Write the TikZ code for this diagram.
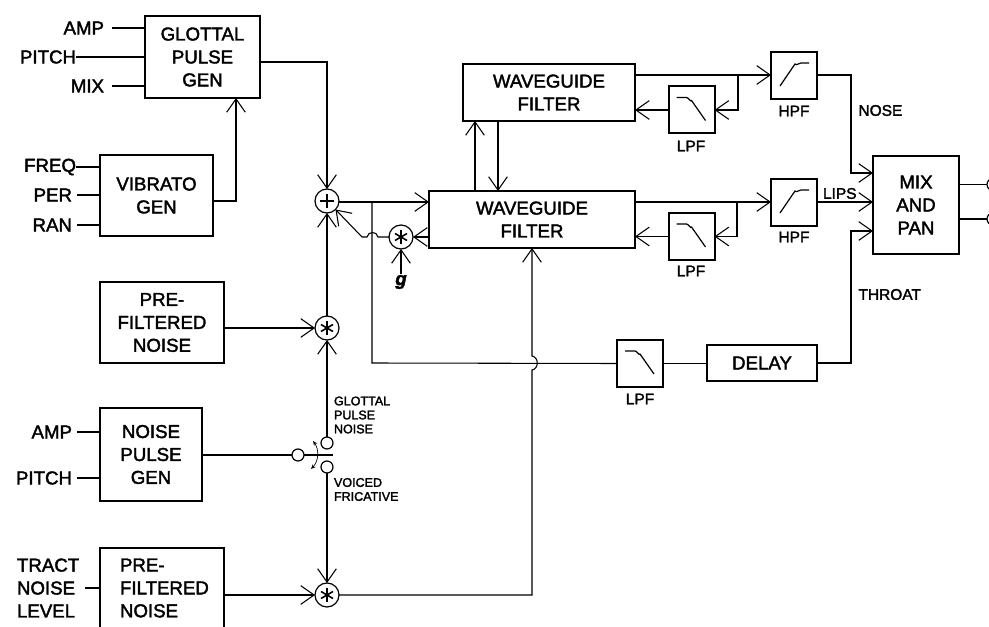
\documentclass[tikz,border=0pt]{standalone}
\usepackage{fontspec}
\setmainfont{Liberation Sans}
\newfontfamily\dk[FakeBold=2]{Liberation Sans}
\usetikzlibrary{arrows.meta}
\tikzset{
  x=0.75pt,y=-0.75pt,
  wh/.style 2 args={minimum width=#1*0.75pt,minimum height=#2*0.75pt},
  box/.style={draw,line width=1.3pt,inner sep=0pt,outer sep=0pt,align=center,font=\dk\fontsize{14}{17.2}\selectfont},
  tbox/.style={box,line width=1.05pt},
  fbox/.style={box,line width=1.5pt,wh={46}{47}},
  lab/.style={inner sep=0pt,outer sep=0pt,font=\dk\fontsize{14}{17.2}\selectfont,align=left},
  slab/.style={inner sep=0pt,outer sep=0pt,font=\dk\fontsize{11.6}{14}\selectfont,align=left},
  tiny/.style={inner sep=0pt,outer sep=0pt,font=\dk\fontsize{9.4}{10.5}\selectfont,align=left},
  wire/.style={line width=0.8pt},
  arr/.style={wire,-{Straight Barb[length=10pt,width=14pt,line width=0.8pt]}},
  contact/.style={draw,circle,line width=0.9pt,minimum size=12*0.75pt,inner sep=0pt,outer sep=0pt},
  opstar/.style={draw,circle,line width=0.9pt,minimum size=24*0.75pt,inner sep=0pt,outer sep=0pt,
    path picture={
      \draw[line width=1.2pt] (path picture bounding box.center) ++(0,-7) -- ++(0,14);
      \draw[line width=1.2pt] (path picture bounding box.center) ++(-6,-3.5) -- ++(12,7);
      \draw[line width=1.2pt] (path picture bounding box.center) ++(-6,3.5) -- ++(12,-7);
    }},
  opplus/.style={draw,circle,line width=0.9pt,minimum size=24*0.75pt,inner sep=0pt,outer sep=0pt,
    path picture={
      \draw[line width=2.2pt] (path picture bounding box.center) ++(0,-7) -- ++(0,14);
      \draw[line width=2.2pt] (path picture bounding box.center) ++(-7,0) -- ++(14,0);
    }},
}
\begin{document}
\begin{tikzpicture}
\useasboundingbox[fill=white] (0,0) rectangle (989,627);
\clip (0,0) rectangle (989,627);

% boxes
\node[box,wh={115}{82}] (glottal) at (202.5,57) {GLOTTAL\\PULSE\\GEN};
\node[tbox,wh={113}{81}] (vibrato) at (156.5,195.5) {VIBRATO\\GEN};
\node[box,wh={124}{81}] (pre1) at (162,322.5) {PRE-\\FILTERED\\NOISE};
\node[tbox,wh={102}{93}] (noisegen) at (151,454.5) {NOISE\\PULSE\\GEN};
\node[box,wh={124}{100}] (pre2) at (162,598) {};
\node[lab,anchor=west] (pre2t) at (120,588) {PRE-\\FILTERED\\NOISE};
\node[tbox,wh={172}{57}] (wg1) at (549,92.5) {WAVEGUIDE\\FILTER};
\node[box,wh={206}{57}] (wg2) at (532,219.5) {WAVEGUIDE\\FILTER};
\node[fbox] (hpf1) at (794,75.5) {};
\node[fbox] (lpf1) at (691.5,110) {};
\node[fbox] (hpf2) at (794,202.5) {};
\node[fbox] (lpf2) at (691.5,236.5) {};
\node[fbox] (lpf3) at (640,363.5) {};
\node[box,wh={110}{36}] (delay) at (762,363) {DELAY};
\node[box,wh={86}{98}] (mix) at (916,205) {MIX\\AND\\PAN};

% filter curves
\foreach \n in {hpf1,hpf2}
  \draw[line width=0.9pt] ([shift={(9,34)}]\n.north west) -- ([shift={(24,12)}]\n.north west) to[out=-50,in=180] ([shift={(30,11)}]\n.north west) -- ([shift={(38,11)}]\n.north west);
\foreach \n in {lpf1,lpf2,lpf3}
  \draw[line width=0.9pt] ([shift={(8,11)}]\n.north west) -- ([shift={(18,11)}]\n.north west) to[out=0,in=-125] ([shift={(23,14)}]\n.north west) -- ([shift={(37,34)}]\n.north west);

% operators
\node[opplus] (plus) at (327,201) {};
\node[opstar] (star1) at (327,328) {};
\node[opstar] (star2) at (327,595) {};
\node[opstar] (starg) at (401,237) {};
\node[contact] (sw0) at (298,455) {};
\node[contact] (sw1) at (327,443) {};
\node[contact] (sw2) at (327,467) {};
\node[contact] (outa) at (993,184.5) {};
\node[contact] (outb) at (993,219) {};

% labels
\node[lab,anchor=east] (amp1) at (104,28) {AMP};
\node[lab,anchor=east] (pitch1) at (76,57) {PITCH};
\node[lab,anchor=east] (mix1) at (104,86) {MIX};
\node[lab,anchor=east] (freq) at (76,167) {FREQ};
\node[lab,anchor=east] (per) at (72,195) {PER};
\node[lab,anchor=east] (ran) at (72,225) {RAN};
\node[lab,anchor=east] (amp2) at (72,432) {AMP};
\node[lab,anchor=east] (pitch2) at (72,478) {PITCH};
\node[lab,anchor=west] (tract) at (17,588) {TRACT\\NOISE\\LEVEL};
\node[slab] (hl1) at (794,111) {HPF};
\node[slab] (ll1) at (691,146) {LPF};
\node[slab] (hl2) at (794,237) {HPF};
\node[slab] (ll2) at (691,271) {LPF};
\node[slab] (ll3) at (640,399) {LPF};
\node[slab,anchor=west] (nose) at (858.5,110.5) {NOSE};
\node[slab,anchor=west] (lips) at (823,193.5) {LIPS};
\node[slab,anchor=west] (throat) at (858.5,294.5) {THROAT};
\node[tiny,anchor=west] (gpn) at (334,415) {GLOTTAL\\PULSE\\NOISE};
\node[tiny,anchor=west] (vf) at (334,489.5) {VOICED\\FRICATIVE};
\node[inner sep=0pt,font=\dk\bfseries\itshape\fontsize{14}{16}\selectfont] (g) at (401,282) {g};

% free ends
\coordinate (swend) at (333,455);
\coordinate (tap) at (372,202);

% input stubs
\draw[wire] (amp1.east) ++(8,0) -- (glottal.west |- amp1.east);
\draw[wire] (pitch1.east) -- (glottal.west |- pitch1.east);
\draw[wire] (mix1.east) ++(8,0) -- (glottal.west |- mix1.east);
\draw[wire] (freq.east) -- (vibrato.west |- freq.east);
\draw[wire] (per.east) ++(5,0) -- (vibrato.west |- per.east);
\draw[wire] (ran.east) ++(5,0) -- (vibrato.west |- ran.east);
\draw[wire] (amp2.east) ++(5,0) -- (noisegen.west |- amp2.east);
\draw[wire] (pitch2.east) ++(5,0) -- (noisegen.west |- pitch2.east);
\draw[wire] (tract.east) ++(6,0) -- (pre2.west |- tract.east);

% left column
\draw[arr] (vibrato.east |- 0,201) -- (236,201) -- (glottal.south -| 236,0);
\draw[arr] (glottal.east |- 0,62) -- (327,62) -- (plus.north);
\draw[arr] (star1.north) -- (plus.south);
\draw[arr] (pre1.east |- star1.west) -- (star1.west);
\draw[arr] (sw1.north) -- (star1.south);
\draw[wire] (noisegen.east |- sw0.west) -- (sw0.west);
\draw[wire] (sw0.east) -- (swend);
\draw[arr] (sw2.south) -- (star2.north);
\draw[arr] (pre2.east |- star2.west) -- (star2.west);
\draw[line width=0.5pt,{Stealth[length=3.5pt,width=3pt,open]}-{Stealth[length=3.5pt,width=3pt,open]}] (sw1.west) ++(-8,-2) to[bend left=40] ([shift={(-10,2)}]sw2.west);

% centre
\draw[arr] (plus.east |- tap) -- (wg2.west |- tap);
\draw[wire] (tap) -- (372,363) -- (lpf3.west);
\draw[arr] (wg2.west |- starg.east) -- (starg.east);
\draw[arr] (starg.west) -- (378,237) .. controls (377,231) and (368,231) .. (367,237) -- (362,237) -- (plus.-45);
\draw[arr] (g.north) ++(0,-1) -- (starg.south);
\draw[arr] (star2.east) -- (532,595) -- (532,370) .. controls (539,369) and (539,357) .. (532,356) -- (wg2.south);
\draw[arr] (wg2.north -| 475,0) -- (wg1.south -| 475,0);
\draw[arr] (wg1.south -| 498,0) -- (wg2.north -| 498,0);

% upper filter branch
\draw[arr] (wg1.east |- 0,75) -- (hpf1.west |- 0,75);
\draw[arr] (738,75) -- (738,110) -- (lpf1.east);
\draw[arr] (lpf1.west) -- (wg1.east |- lpf1.west);
\draw[arr] (hpf1.east |- 0,75) -- (851,75) -- (851,173) -- (mix.west |- 0,173);

% lower filter branch
\draw[arr] (wg2.east |- 0,202) -- (hpf2.west |- 0,202);
\draw[arr] (737,202) -- (737,236.5) -- (lpf2.east);
\draw[arr] (lpf2.west) -- (wg2.east |- lpf2.west);
\draw[arr] (hpf2.east |- 0,202) -- (mix.west |- 0,202);

% throat
\draw[wire] (lpf3.east) -- (delay.west |- lpf3.east);
\draw[arr] (delay.east) -- (851,363) -- (851,231) -- (mix.west |- 0,231);

% outputs
\draw[line width=1pt] (mix.east |- outa.west) -- (outa.west);
\draw[line width=1pt] (mix.east |- outb.west) -- (outb.west);
\end{tikzpicture}
\end{document}
